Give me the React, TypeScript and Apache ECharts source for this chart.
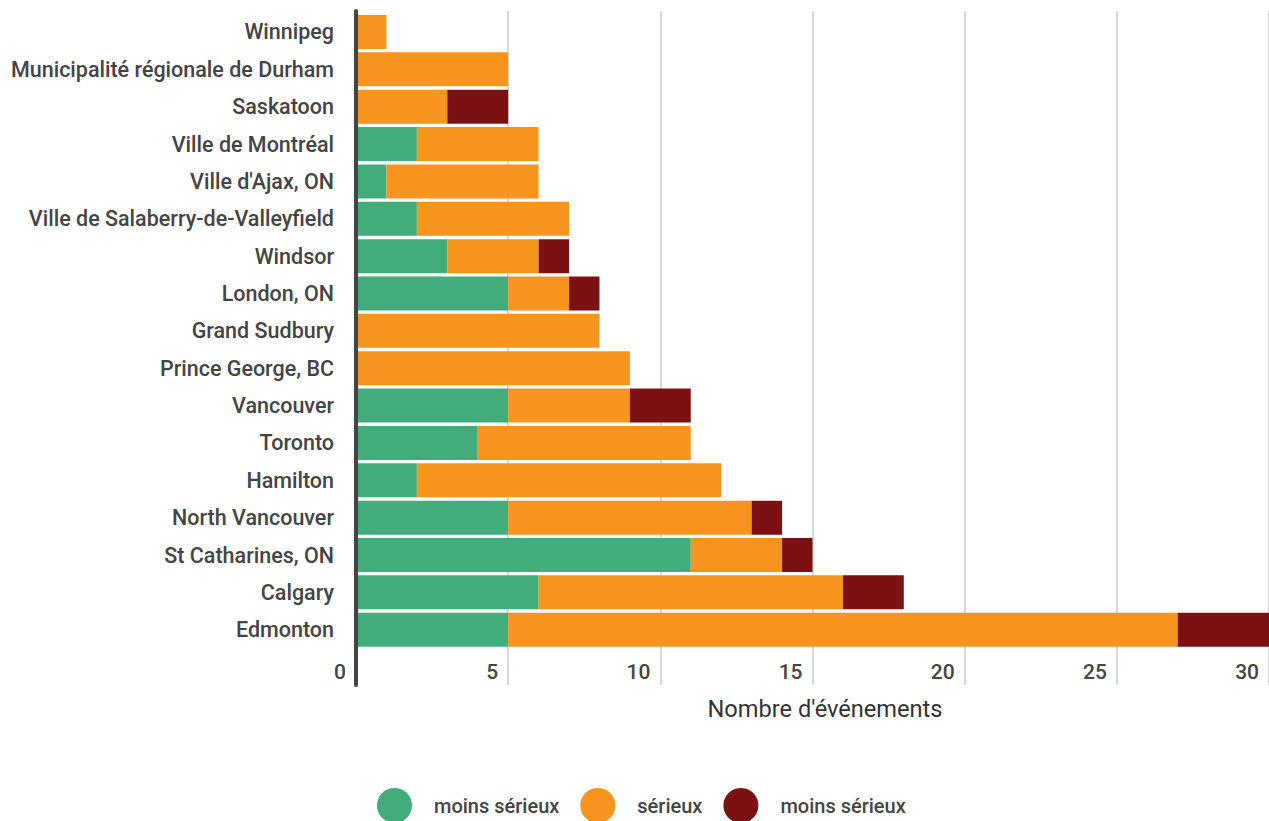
import React, { useEffect, useRef } from "react";
import * as echarts from "echarts";

const categories = [
  "Winnipeg",
  "Municipalité régionale de Durham",
  "Saskatoon",
  "Ville de Montréal",
  "Ville d'Ajax, ON",
  "Ville de Salaberry-de-Valleyfield",
  "Windsor",
  "London, ON",
  "Grand Sudbury",
  "Prince George, BC",
  "Vancouver",
  "Toronto",
  "Hamilton",
  "North Vancouver",
  "St Catharines, ON",
  "Calgary",
  "Edmonton",
];

const greenValues = [0, 0, 0, 2, 1, 2, 3, 5, 0, 0, 5, 4, 2, 5, 11, 6, 5];
const orangeValues = [1, 5, 3, 4, 5, 5, 3, 2, 8, 9, 4, 7, 10, 8, 3, 10, 22];
const redValues = [0, 0, 2, 0, 0, 0, 1, 1, 0, 0, 2, 0, 0, 1, 1, 2, 3];

const seriesLabels = ["moins sérieux", "sérieux", "moins sérieux"];
const seriesIds = ["moins sérieux", "sérieux", "moins sérieux "];
const seriesColors = ["#43ac7b", "#f7941e", "#7b1113"];

const xMin = 0;
const xMax = 30;
const xInterval = 5;
const axisTitle = "Nombre d'événements";

const FONT = "Roboto, 'Noto Sans', sans-serif";

export default function App() {
  const ref = useRef<HTMLDivElement>(null);

  useEffect(() => {
    if (!ref.current) return;
    const chart = echarts.init(ref.current, null, { renderer: "svg" });
    const values = [greenValues, orangeValues, redValues];
    const labelMap: Record<string, string> = {};
    seriesIds.forEach((id, i) => (labelMap[id] = seriesLabels[i]));

    chart.setOption({
      animation: false,
      textStyle: { fontFamily: FONT },
      grid: [
        { left: 356, width: 914, top: 13.3, bottom: 172.6, containLabel: false },
        { left: 356, width: 914, top: 11, bottom: 136, containLabel: false },
      ],
      xAxis: [
        {
          type: "value",
          gridIndex: 0,
          min: xMin,
          max: xMax,
          interval: xInterval,
          axisLine: { show: false },
          axisTick: { show: false },
          splitLine: { show: false },
          axisLabel: {
            show: true,
            align: "right",
            padding: [0, 10, 0, 0],
            margin: 13,
            fontSize: 21,
            fontWeight: 500,
            color: "#444",
            fontFamily: FONT,
          },
        },
        {
          type: "value",
          gridIndex: 1,
          min: xMin,
          max: xMax,
          interval: xInterval,
          axisLine: { show: false },
          axisTick: { show: false },
          axisLabel: { show: false },
          splitLine: { show: true, lineStyle: { color: "#d9d9d9", width: 2 } },
        },
      ],
      yAxis: [
        {
          type: "category",
          gridIndex: 0,
          data: categories,
          inverse: true,
          axisLine: { show: false },
          axisTick: { show: false },
          axisLabel: {
            margin: 22,
            fontSize: 21.5,
            fontWeight: 500,
            color: "#444",
            fontFamily: FONT,
          },
        },
        {
          type: "value",
          gridIndex: 1,
          min: 0,
          max: 1,
          z: 5,
          axisLine: { show: true, onZero: false, lineStyle: { color: "#444", width: 4 } },
          axisTick: { show: false },
          axisLabel: { show: false },
          splitLine: { show: false },
        },
      ],
      legend: {
        left: 377,
        top: 788,
        padding: 0,
        icon: "circle",
        itemWidth: 35,
        itemHeight: 35,
        itemGap: 21,
        data: seriesIds,
        formatter: (name: string) => labelMap[name] ?? name,
        textStyle: {
          fontSize: 20,
          fontWeight: 500,
          color: "#444",
          fontFamily: FONT,
          padding: [0, 0, 0, 17],
        },
      },
      graphic: [
        {
          type: "text",
          x: 825,
          y: 709,
          style: {
            text: axisTitle,
            fontSize: 23.6,
            fill: "#333",
            fontFamily: FONT,
            align: "center",
            verticalAlign: "middle",
          },
        },
      ],
      series: seriesIds.map((id, i) => ({
        name: id,
        type: "bar",
        stack: "total",
        xAxisIndex: 0,
        yAxisIndex: 0,
        barCategoryGap: "9%",
        itemStyle: { color: seriesColors[i] },
        data: values[i],
      })),
    });

    return () => chart.dispose();
  }, []);

  return <div ref={ref} style={{ width: 1269, height: 821, position: "absolute", left: 0, top: 0 }} />;
}
